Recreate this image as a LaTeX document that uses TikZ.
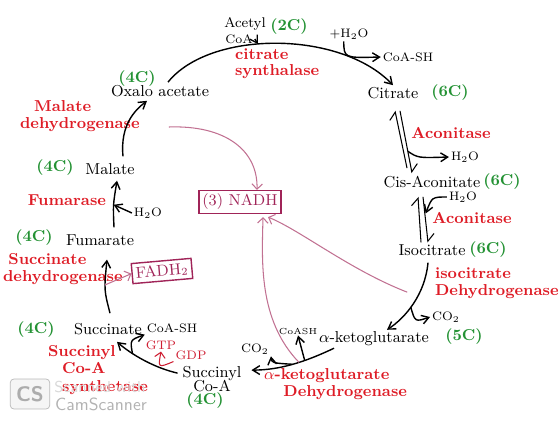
\documentclass[tikz,border=0pt]{standalone}
\usepackage{amsmath}
\usepackage{tikz}
\usetikzlibrary{arrows.meta}

\definecolor{enzred}{RGB}{222,28,38}
\definecolor{cgreen}{RGB}{36,146,52}
\definecolor{nadhcol}{RGB}{160,36,88}

\tikzset{
  met/.style={font=\small, inner sep=1pt, align=center},
  enz/.style={font=\small\bfseries, text=enzred, inner sep=1pt},
  cnum/.style={font=\small\bfseries, text=cgreen, inner sep=1pt},
  side/.style={font=\scriptsize, inner sep=1pt},
  mini/.style={font=\tiny, inner sep=0.5pt},
  gtpdp/.style={font=\scriptsize, text=enzred!75!nadhcol, inner sep=1pt},
  prodbox/.style={draw=nadhcol, thick, font=\small, text=nadhcol, inner sep=2pt},
  flow/.style={thick, -{Straight Barb[length=4pt, width=5pt]}},
  eqflow/.style={semithick, -{Straight Barb[left, length=4pt]}},
  tonadh/.style={draw=nadhcol!65, semithick, -{Straight Barb[length=3pt]}}
}

\begin{document}
\begin{tikzpicture}[x=0.02cm, y=-0.02cm]

\useasboundingbox (0,0) rectangle (560,425);

% Metabolites
\node[met] (oaa) at (160,91) {Oxalo acetate};
\node[cnum] (oaac) at (137,79) {(4C)};
\node[met, font=\footnotesize] (acet) at (245,24) {Acetyl};
\node[cnum] (acetc) at (289,27) {(2C)};
\node[side] (acoa) at (239,39) {CoA};
\node[met] (cit) at (393,93) {Citrate};
\node[cnum] (citc) at (450,93) {(6C)};
\node[side] (h2oa) at (349,34) {+H$_2$O};
\node[side] (coash) at (408,57) {CoA-SH};
\node[met] (cis) at (432,182) {Cis-Aconitate};
\node[cnum] (cisc) at (502,182) {(6C)};
\node[side] (h2ob) at (465,157) {H$_2$O};
\node[side] (h2oc) at (463,197) {H$_2$O};
\node[met] (iso) at (432,250) {Isocitrate};
\node[cnum] (isoc) at (488,250) {(6C)};
\node[side] (co2a) at (446,317) {CO$_2$};
\node[met] (akg) at (374,339) {$\alpha$-ketoglutarate};
\node[cnum] (akgc) at (464,337) {(5C)};
\node[mini] (coash3) at (298,331) {CoASH};
\node[side] (co2b) at (255,349) {CO$_2$};
\node[met] (scoa) at (212,379) {Succinyl\\[-3pt]Co-A};
\node[cnum] (scoac) at (205,401) {(4C)};
\node[side] (coash2) at (172,328) {CoA-SH};
\node[gtpdp] (gtp) at (161,345) {GTP};
\node[gtpdp] (gdp) at (191,355) {GDP};
\node[met] (suc) at (108,329) {Succinate};
\node[cnum] (succ) at (36,330) {(4C)};
\node[met] (fum) at (100,240) {Fumarate};
\node[cnum] (fumc) at (34,238) {(4C)};
\node[side] (h2of) at (148,213) {H$_2$O};
\node[met] (mal) at (110,169) {Malate};
\node[cnum] (malc) at (55,168) {(4C)};

% Products
\node[prodbox] (nadh) at (240,202) {(3) NADH};
\node[prodbox, rotate=5] (fadh) at (162,271) {FADH$_2$};

% Enzymes
\node[enz, anchor=west, align=left] (csyn) at (233,64) {citrate\\[-2pt]synthalase};
\node[enz] (acn1) at (451,133) {Aconitase};
\node[enz] (acn2) at (472,218) {Aconitase};
\node[enz, anchor=west, align=left] (idh) at (433,283) {isocitrate\\[-1pt]Dehydrogenase};
\node[enz, anchor=west, align=left] (kgdh) at (262,384) {$\alpha$-ketoglutarate\\[-1pt]\hspace*{11pt}Dehydrogenase};
\node[enz, anchor=west, align=left] (scs) at (46,370) {Succinyl\\[-1pt]\hspace*{8pt}Co-A\\[-1pt]\hspace*{8pt}synthetase};
\node[enz, anchor=west, align=left] (sdh) at (1,269) {\hspace*{3pt}Succinate\\[-1pt]dehydrogenase};
\node[enz] (fumase) at (67,200) {Fumarase};
\node[enz, anchor=west, align=left] (mdh) at (18,116) {\hspace*{8pt}Malate\\[-1pt]dehydrogenase};

% Scanner mark
\node[draw=gray!55, fill=gray!8, rounded corners=2pt, font=\sffamily\bfseries\large,
  text=gray!65, minimum width=18pt, minimum height=17pt] (cslogo) at (30,394) {CS};
\node[font=\sffamily\small, text=gray!30] (scanw) at (100,387) {Scanned with};
\node[font=\sffamily, text=gray!60] (cams) at (101,404) {CamScanner};

% Citrate synthase step
\draw[flow] ([shift={(8,-1)}]oaa.north) .. controls (210,30) and (340,30) .. (cit.north)
  coordinate[pos=0.43] (acin);
\draw[flow] (acoa.east) -- (acin);
\draw[flow] ([xshift=-3pt]h2oa.south) .. controls (344,58) .. (coash.west);

% Aconitase steps
\draw[eqflow] ([shift={(-25,-6)}]cis.north) -- ([shift={(2,10)}]cit.south);
\draw[eqflow] ([shift={(7,10)}]cit.south) -- ([shift={(-20,-1)}]cis.north)
  coordinate[pos=0.65] (acj1);
\draw[flow] (acj1) .. controls (418,158) .. (h2ob.west);
\draw[eqflow] ([shift={(-11,0)}]iso.north) -- ([shift={(-14,7)}]cis.south);
\draw[eqflow] ([shift={(-9,7)}]cis.south) -- ([shift={(-4,0)}]iso.north)
  coordinate[pos=0.4] (acj2);
\draw[flow, shorten >=1pt] (h2oc.west) .. controls (432,197) .. (acj2);

% Isocitrate dehydrogenase
\draw[flow] ([shift={(-4,5)}]iso.south) .. controls (425,295) and (405,318) .. ([shift={(13,0)}]akg.north)
  coordinate[pos=0.55] (co2j) coordinate[pos=0.3] (idhj);
\draw[flow] (co2j) .. controls (415,322) .. (co2a.west);

% alpha-ketoglutarate dehydrogenase
\draw[flow] ([shift={(-40,0)}]akg.south) .. controls (305,362) and (280,370) .. ([shift={(8,6)}]scoa.north east)
  coordinate[pos=0.35] (kgj1) coordinate[pos=0.42] (kgj3) coordinate[pos=0.5] (kgj2);
\draw[flow] (kgj1) -- (coash3.south);
\draw[flow] (kgj2) .. controls (272,363) .. (co2b.south east);

% Succinyl CoA synthetase
\draw[flow] ([shift={(-3,9)}]scoa.north west) .. controls (155,368) and (132,355) .. ([shift={(9,5)}]suc.south)
  coordinate[pos=0.7] (scj);
\draw[flow] (scj) .. controls (130,340) .. (coash2.south west);
\draw[draw=enzred!75!nadhcol, semithick, -{Straight Barb[length=3pt]}] (gdp.south west) .. controls (158,368) .. (gtp.south);

% Succinate dehydrogenase
\draw[flow] ([shift={(2,-8)}]suc.north) .. controls (104,290) .. ([shift={(7,12)}]fum.south)
  coordinate[pos=0.6] (sdhj);
\draw[tonadh] (sdhj) -- (fadh.west);

% Fumarase
\draw[flow] ([shift={(14,-5)}]fum.north) .. controls (113,205) .. ([shift={(7,4)}]mal.south)
  coordinate[pos=0.5] (fmj);
\draw[flow] (h2of.west) -- (fmj);

% Malate dehydrogenase
\draw[flow] ([shift={(13,-5)}]mal.north) .. controls (120,125) and (135,110) .. ([shift={(-13,2)}]oaa.south);

% NADH
\draw[tonadh] ([shift={(27,11)}]mdh.east) .. controls (225,125) and (258,150) .. ([shift={(17,0)}]nadh.north);
\draw[tonadh] ([shift={(-14,3)}]idhj) .. controls (350,270) and (300,230) .. ([shift={(28,3)}]nadh.south);
\draw[tonadh] (kgj3) .. controls (258,320) and (262,260) .. ([shift={(23,3)}]nadh.south);

\end{tikzpicture}
\end{document}
